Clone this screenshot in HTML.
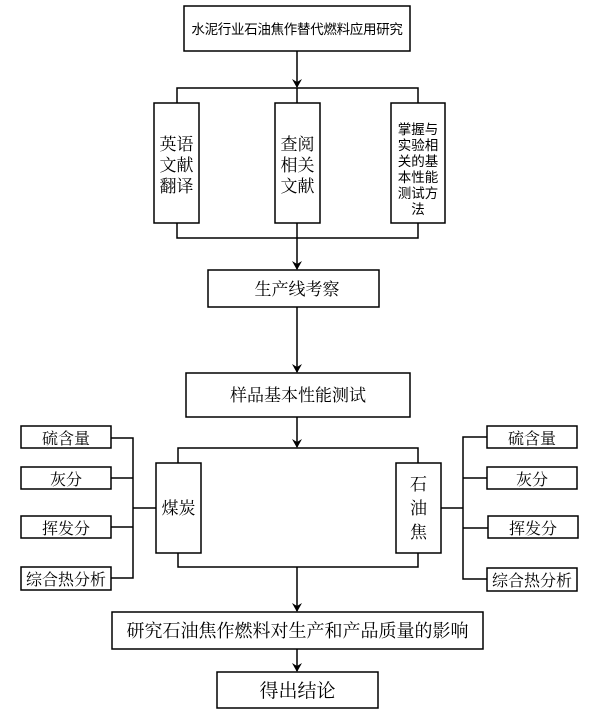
<!DOCTYPE html>
<html><head><meta charset="utf-8"><style>
html,body{margin:0;padding:0;background:#fff;}
svg{display:block;}
.s{font-family:"Liberation Serif","Noto Serif CJK SC","Noto Serif CJK JP","Noto Serif CJK TC",serif;fill:#000;}
.a{font-family:"Liberation Sans","Noto Sans CJK SC",sans-serif;fill:#000;}
</style></head><body>
<svg width="614" height="717" viewBox="0 0 614 717" xmlns="http://www.w3.org/2000/svg">
<defs><marker id="ar" markerWidth="10" markerHeight="10" refX="8" refY="5" orient="auto" markerUnits="userSpaceOnUse"><path d="M0,0 L9,5 L0,10 L3,5 Z" fill="#000"/></marker></defs>
<g fill="none" stroke="#000" stroke-width="1.5">
<rect x="184" y="6" width="226" height="45"/>
<line x1="297" y1="51" x2="297" y2="87" marker-end="url(#ar)"/>
<polyline points="177,103 177,88 418,88 418,103"/>
<line x1="297" y1="88" x2="297" y2="103"/>
<rect x="154" y="103" width="45" height="120"/>
<rect x="275" y="103" width="45" height="120"/>
<rect x="391" y="103" width="54" height="120"/>
<polyline points="177,223 177,238 418,238 418,223"/>
<line x1="297" y1="223" x2="297" y2="269" marker-end="url(#ar)"/>
<rect x="208" y="270" width="171" height="37"/>
<line x1="297" y1="307" x2="297" y2="372" marker-end="url(#ar)"/>
<rect x="186" y="373" width="224" height="44"/>
<line x1="297" y1="417" x2="297" y2="447" marker-end="url(#ar)"/>
<polyline points="178,463 178,448 418,448 418,463"/>
<rect x="156" y="463" width="45" height="90"/>
<rect x="396" y="463" width="45" height="90"/>
<polyline points="178,553 178,567 418,567 418,553"/>
<line x1="297" y1="567" x2="297" y2="611" marker-end="url(#ar)"/>
<rect x="21" y="426" width="90" height="22"/>
<rect x="21" y="467" width="90" height="22"/>
<rect x="21" y="516" width="90" height="22"/>
<rect x="21" y="567" width="90" height="23"/>
<polyline points="111,438 133,438 133,578 111,578"/>
<line x1="111" y1="478" x2="133" y2="478"/>
<line x1="111" y1="527" x2="133" y2="527"/>
<line x1="133" y1="508" x2="156" y2="508"/>
<rect x="487" y="426" width="90" height="22"/>
<rect x="487" y="467" width="90" height="22"/>
<rect x="488" y="516" width="90" height="22"/>
<rect x="487" y="568" width="90" height="23"/>
<polyline points="487,437 463,437 463,579 487,579"/>
<line x1="463" y1="478" x2="487" y2="478"/>
<line x1="463" y1="528" x2="488" y2="528"/>
<line x1="441" y1="508" x2="463" y2="508"/>
<rect x="112" y="612" width="371" height="37"/>
<line x1="297" y1="649" x2="297" y2="671" marker-end="url(#ar)"/>
<rect x="217" y="672" width="161" height="36"/>
</g>
<text class="a" x="297" y="34" font-size="13.5" text-anchor="middle" letter-spacing="-0.3">水泥行业石油焦作替代燃料应用研究</text>
<g class="s" font-size="17" text-anchor="middle">
<text x="176.5" y="150">英语</text><text x="176.5" y="171">文献</text><text x="176.5" y="192">翻译</text>
<text x="297.5" y="150">查阅</text><text x="297.5" y="171">相关</text><text x="297.5" y="192">文献</text>
<text x="297" y="295">生产线考察</text>
<text x="298" y="401">样品基本性能测试</text>
<text x="178.5" y="514">煤炭</text>
<text x="418.5" y="490">石</text><text x="418.5" y="514">油</text><text x="418.5" y="538">焦</text>
<text x="66" y="444" font-size="16">硫含量</text>
<text x="66" y="485" font-size="16">灰分</text>
<text x="66" y="534" font-size="16">挥发分</text>
<text x="66" y="585" font-size="16">综合热分析</text>
<text x="532" y="444" font-size="16">硫含量</text>
<text x="532" y="485" font-size="16">灰分</text>
<text x="533" y="534" font-size="16">挥发分</text>
<text x="532" y="586" font-size="16">综合热分析</text>
<text x="297.5" y="637" font-size="18">研究石油焦作燃料对生产和产品质量的影响</text>
<text x="297.5" y="697" font-size="19">得出结论</text>
</g>
<g class="a" font-size="13.5" text-anchor="middle">
<text x="418" y="134">掌握与</text><text x="418" y="150">实验相</text><text x="418" y="166">关的基</text><text x="418" y="182">本性能</text><text x="418" y="198">测试方</text><text x="418" y="214">法</text>
</g>
</svg>
</body></html>
